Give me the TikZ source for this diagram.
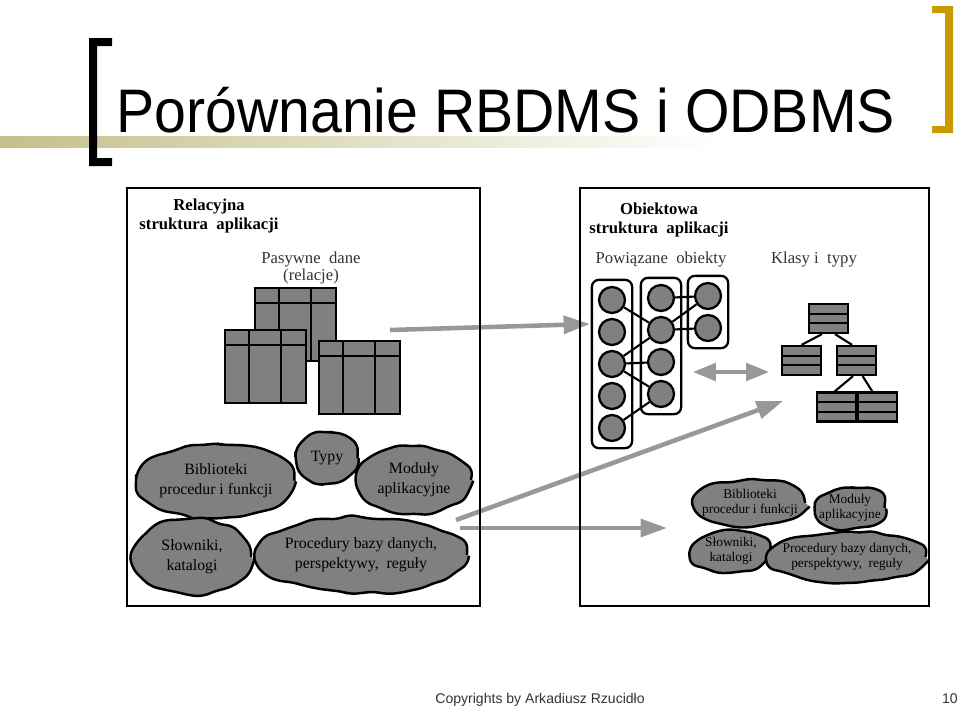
\documentclass[tikz,border=0pt]{standalone}
\usepackage{fontspec}
\setmainfont{Liberation Serif}
\newfontfamily\slidefont{Liberation Sans}
\newfontfamily\titlefont[FakeStretch=0.93]{Liberation Sans}
\usetikzlibrary{arrows.meta,shapes.geometric,decorations.pathmorphing,fit,calc}

\definecolor{olivebar}{RGB}{196,192,138}
\definecolor{goldbar}{RGB}{204,153,0}
\definecolor{shapegray}{RGB}{128,128,128}
\definecolor{arrowgray}{RGB}{152,152,152}

\pgfmathsetseed{11}

\begin{document}
\begin{tikzpicture}[x=0.02cm, y=-0.02cm,
    panel/.style={line width=1.6pt},
    reltab/.style={fill=shapegray, draw=black, line width=1.6pt},
    obj/.style={circle, draw, fill=shapegray, line width=1.3pt, minimum size=0.52cm, inner sep=0pt},
    objgroup/.style={draw, rounded corners=4pt, line width=1.3pt, inner sep=0.12cm},
    link/.style={line width=1.2pt},
    klass/.style={draw, fill=shapegray, line width=1.3pt, minimum width=0.78cm,
      minimum height=0.58cm, inner sep=0pt,
      path picture={
        \foreach \f in {0.333,0.667}
          \draw[line width=1.3pt]
            ($(path picture bounding box.north west)!\f!(path picture bounding box.south west)$) --
            ($(path picture bounding box.north east)!\f!(path picture bounding box.south east)$);
      }},
    blob/.style={ellipse, draw, fill=shapegray, line width=1.4pt, align=center,
      inner xsep=-5pt, inner ysep=-3pt,
      decorate, decoration={random steps, segment length=7pt, amplitude=1.3pt},
      rounded corners=3.5pt},
    big blob/.style={blob, font=\fontsize{9}{11.5}\selectfont},
    small blob/.style={blob, font=\fontsize{7.6}{8.6}\selectfont},
    heading/.style={font=\bfseries\fontsize{9.5}{11.3}\selectfont, align=center},
    caption/.style={font=\fontsize{9.5}{10}\selectfont, align=center, text=black!80},
    bigarrow/.style={arrowgray, line width=2.6pt, -{Triangle[length=15pt,width=10pt]}},
    footer/.style={font=\slidefont\fontsize{8}{9}\selectfont, text=black!80}]

  \useasboundingbox (0,0) rectangle (960,707);

  % ===== Slide header =====
  \shade[left color=olivebar, right color=white] (0,136) rectangle (720,147);
  \fill (112,38) -- (89,38) -- (89,166) -- (112,166) -- (112,158) -- (97,158)
    -- (97,46) -- (112,46) -- cycle;
  \fill[goldbar] (932,6) -- (953,6) -- (953,133) -- (932,133) -- (932,126)
    -- (945,126) -- (945,13) -- (932,13) -- cycle;
  \node[font=\titlefont\fontsize{35}{40}\selectfont, anchor=base west, inner sep=0pt]
    (title) at (116,132) {Porównanie RBDMS i ODBMS};

  % ===== Grey arrows (drawn first, frames go over them) =====
  \coordinate (rel from) at (390,330);
  \coordinate (obj to) at (590,324);
  \coordinate (typ from) at (456,520);
  \coordinate (typ to) at (783,401);
  \coordinate (proc from) at (460,528);
  \coordinate (proc to) at (667,528);
  \coordinate (dbl left) at (693,372);
  \coordinate (dbl right) at (769,372);
  \draw[bigarrow] (rel from) -- (obj to);
  \draw[bigarrow] (typ from) -- (typ to);
  \draw[bigarrow] (proc from) -- (proc to);
  \draw[arrowgray, line width=2pt, {Triangle[length=13pt,width=10pt]}-{Triangle[length=13pt,width=10pt]}]
    (dbl left) -- (dbl right);

  % ===== Left panel: relational =====
  \draw[panel] (127,188) rectangle (480,606);
  \node[heading] (relhead) at (209,216) {Relacyjna\\struktura\ \ aplikacji};
  \node[caption] (relcap) at (311,268) {Pasywne\ \ dane\\(relacje)};

  % relation tables
  \foreach \tx/\ty in {255/288, 225/330, 319/341} {
    \begin{scope}[shift={(\tx,\ty)}]
      \draw[reltab] (0,0) rectangle (81,73);
      \draw[line width=1.6pt] (0,15) -- (81,15) (24,0) -- (24,73) (56,0) -- (56,73);
    \end{scope}
  }

  % program parts
  \node[big blob, minimum width=3.14cm, minimum height=1.5cm] (bib) at (216,481)
    {Biblioteki\\procedur i funkcji};
  \node[big blob, minimum width=1.22cm, minimum height=1.0cm] (typy) at (327,458) {Typy};
  \node[big blob, minimum width=2.28cm, minimum height=1.32cm] (mod) at (414,480)
    {Moduły\\aplikacyjne};
  \node[big blob, minimum width=2.36cm, minimum height=1.5cm] (slow) at (192,557)
    {Słowniki,\\katalogi};
  \node[big blob, minimum width=4.24cm, minimum height=1.52cm] (proc) at (361,555)
    {Procedury bazy danych,\\perspektywy,\ \ reguły};

  % ===== Right panel: object =====
  \draw[panel] (580,188) rectangle (929,606);
  \node[heading] (objhead) at (659,220) {Obiektowa\\struktura\ \ aplikacji};
  \node[caption, anchor=base] (objcap) at (661,263) {Powiązane\ \ obiekty};
  \node[caption, anchor=base] (klcap) at (814,263) {Klasy i\ \ typy};

  % linked objects
  \foreach \i/\y in {1/300,2/332,3/364,4/396,5/428}
    \node[obj] (a\i) at (612,\y) {};
  \foreach \i/\y in {1/298,2/330,3/362,4/394}
    \node[obj] (b\i) at (661,\y) {};
  \foreach \i/\y in {1/296,2/328}
    \node[obj] (c\i) at (708,\y) {};
  \node[objgroup, fit=(a1)(a5)] (grpa) {};
  \node[objgroup, fit=(b1)(b4)] (grpb) {};
  \node[objgroup, fit=(c1)(c2)] (grpc) {};
  \draw[link] (a1) -- (b2) (a3) -- (b2) (a3) -- (b3) (a3) -- (b4) (a5) -- (b4)
    (b1) -- (c1) (b2) -- (c1) (b2) -- (c2);

  % class hierarchy
  \node[klass] (k0) at (828.5,318.5) {};
  \node[klass] (k1) at (801.5,360.5) {};
  \node[klass] (k2) at (856.5,360.5) {};
  \node[klass] (k3) at (836.5,407) {};
  \node[klass] (k4) at (877.5,407) {};
  \draw[link] ([xshift=-3.7pt]k0.south) -- (k1.north);
  \draw[link] ([xshift=3.7pt]k0.south) -- ([xshift=-2.5pt]k2.north);
  \draw[link] ([xshift=-2pt]k2.south) -- ([xshift=-1pt]k3.north);
  \draw[link] ([xshift=3.5pt]k2.south) -- ([xshift=-3pt]k4.north);

  % program parts, smaller
  \node[small blob, minimum width=2.12cm, minimum height=0.94cm] (bib2) at (750,503)
    {Biblioteki\\procedur i funkcji};
  \node[small blob, minimum width=1.38cm, minimum height=0.82cm] (mod2) at (850,508)
    {Moduły\\aplikacyjne};
  \node[small blob, minimum width=1.56cm, minimum height=0.84cm] (slow2) at (731,551)
    {Słowniki,\\katalogi};
  \node[small blob, minimum width=2.98cm, minimum height=1.02cm] (proc2) at (847,557)
    {Procedury bazy danych,\\perspektywy,\ \ reguły};

  % ===== Footer =====
  \node[footer, anchor=base west, inner sep=0pt] (copy) at (435,703)
    {Copyrights by Arkadiusz Rzucidło};
  \node[footer, anchor=base east, inner sep=0pt] (pnum) at (958,703) {10};

\end{tikzpicture}
\end{document}
